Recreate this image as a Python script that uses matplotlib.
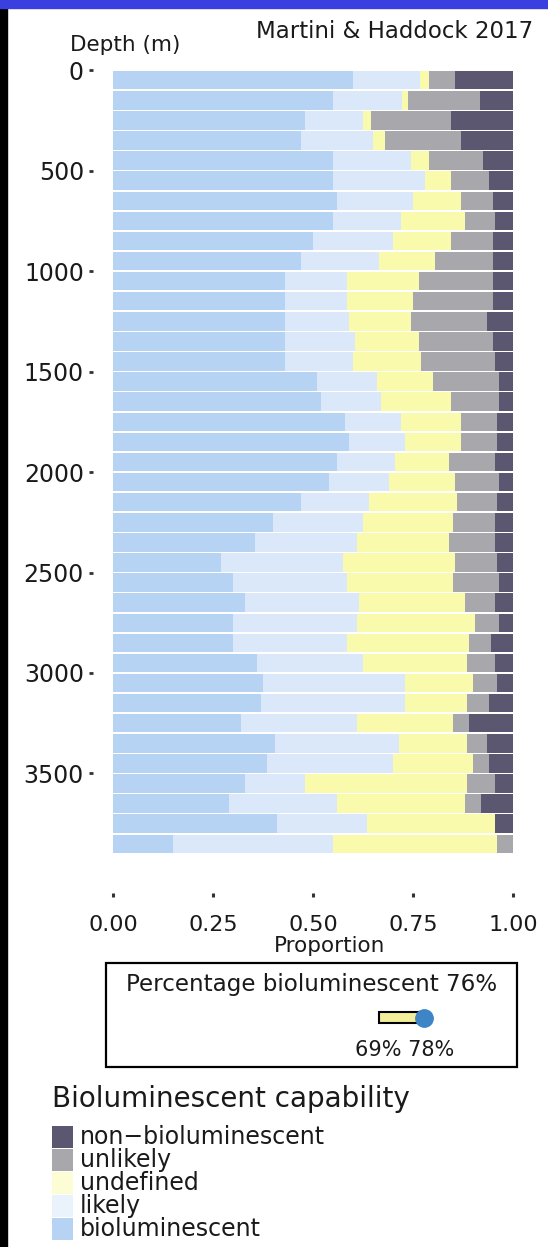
import matplotlib
matplotlib.use("Agg")
import matplotlib.pyplot as plt
from matplotlib.patches import Rectangle

# -------------------------------
# DATA
# -------------------------------
depth_bins = list(range(0, 3900, 100))  # top of each 100 m bin

categories = ["bioluminescent", "likely", "undefined", "unlikely", "non−bioluminescent"]
colors = ["#b7d3f4", "#dae8f9", "#fafaac", "#a8a7ab", "#5c5771"]
key_alpha = [1.0, 0.55, 0.5, 1.0, 1.0]  # legend keys look paler for the two light classes

bioluminescent = [0.60, 0.55, 0.48, 0.47, 0.55, 0.55, 0.56, 0.55, 0.50, 0.47,
                  0.43, 0.43, 0.43, 0.43, 0.43, 0.51, 0.52, 0.58, 0.59, 0.56,
                  0.54, 0.47, 0.40, 0.355, 0.27, 0.30, 0.33, 0.30, 0.30, 0.36,
                  0.375, 0.37, 0.32, 0.405, 0.385, 0.33, 0.29, 0.41, 0.15]
likely = [0.167, 0.172, 0.145, 0.18, 0.195, 0.23, 0.19, 0.17, 0.20, 0.195,
          0.155, 0.155, 0.16, 0.175, 0.17, 0.15, 0.15, 0.14, 0.14, 0.145,
          0.15, 0.17, 0.225, 0.255, 0.305, 0.285, 0.285, 0.31, 0.285, 0.265,
          0.355, 0.36, 0.29, 0.31, 0.315, 0.15, 0.27, 0.225, 0.40]
undefined = [0.023, 0.016, 0.02, 0.03, 0.045, 0.065, 0.12, 0.16, 0.145, 0.14,
             0.18, 0.165, 0.155, 0.16, 0.17, 0.14, 0.175, 0.15, 0.14, 0.135,
             0.165, 0.22, 0.225, 0.23, 0.28, 0.265, 0.265, 0.295, 0.305, 0.26,
             0.17, 0.155, 0.24, 0.17, 0.20, 0.405, 0.32, 0.32, 0.41]
unlikely = [0.065, 0.18, 0.20, 0.19, 0.135, 0.095, 0.08, 0.075, 0.105, 0.145,
            0.185, 0.20, 0.19, 0.185, 0.185, 0.165, 0.12, 0.09, 0.09, 0.115,
            0.11, 0.10, 0.105, 0.115, 0.105, 0.115, 0.075, 0.06, 0.055, 0.07,
            0.06, 0.055, 0.04, 0.05, 0.04, 0.07, 0.04, 0.0, 0.04]
non_bioluminescent = [0.145, 0.082, 0.155, 0.13, 0.075, 0.06, 0.05, 0.045, 0.05, 0.05,
                      0.05, 0.05, 0.065, 0.05, 0.045, 0.035, 0.035, 0.04, 0.04, 0.045,
                      0.035, 0.04, 0.045, 0.045, 0.04, 0.035, 0.045, 0.035, 0.055, 0.045,
                      0.04, 0.06, 0.11, 0.065, 0.06, 0.045, 0.08, 0.045, 0.0]

depth_ticks = [0, 500, 1000, 1500, 2000, 2500, 3000, 3500]
prop_ticks = [0, 0.25, 0.5, 0.75, 1.0]
prop_labels = ["0.00", "0.25", "0.50", "0.75", "1.00"]

pct_estimate = 76
pct_low = 69
pct_high = 78

# -------------------------------
# FIGURE
# -------------------------------
W, H = 548, 1247
plt.rcParams["font.family"] = ["DejaVu Sans"]
txt = "#1a1a1a"

fig = plt.figure(figsize=(W / 100, H / 100), dpi=100)
fig.patch.set_facecolor("white")


def fx(x):
    return x / W


def fy(y):
    return 1 - y / H


# slide frame bits: black strip on the left, blue band on top
fig.add_artist(Rectangle((0, 0), fx(7), 1, transform=fig.transFigure,
                         color="black", zorder=0))
fig.add_artist(Rectangle((0, fy(8)), 1, 8 / H, transform=fig.transFigure,
                         color="#3a3fe0", zorder=0))

# -------------------------------
# STACKED BARS
# -------------------------------
ax = fig.add_axes([fx(93), fy(893), 440 / W, 862 / H])
series = [bioluminescent, likely, undefined, unlikely, non_bioluminescent]
centers = [d + 50 for d in depth_bins]
left = [0.0] * len(depth_bins)
for vals, col, name in zip(series, colors, categories):
    ax.barh(centers, vals, left=left, height=92, color=col,
            linewidth=0, label=name)
    left = [l + v for l, v in zip(left, vals)]

ax.set_xlim(-0.05, 1.05)
ax.set_ylim(4095, -195)
for s in ax.spines.values():
    s.set_visible(False)
ax.set_facecolor("none")

ax.set_yticks(depth_ticks)
ax.set_yticklabels([str(d) for d in depth_ticks])
ax.set_xticks(prop_ticks)
ax.set_xticklabels(prop_labels)
ax.tick_params(axis="y", length=3, width=2, color="#333333", pad=3.5,
               labelsize=17, labelcolor=txt)
ax.tick_params(axis="x", length=3, width=2.2, color="#333333", pad=12.5,
               labelsize=16, labelcolor=txt)

fig.text(fx(330), fy(946), "Proportion", ha="center", va="center",
         fontsize=15.5, color=txt)
fig.text(fx(70), fy(51), "Depth (m)", ha="left", va="baseline",
         fontsize=15.5, color=txt)
fig.text(fx(533), fy(32), "Martini & Haddock 2017", ha="right", va="center",
         fontsize=16.5, color=txt)

# -------------------------------
# PERCENTAGE BOX
# -------------------------------
fig.add_artist(Rectangle((fx(106), fy(1067)), 411 / W, 104 / H,
                         transform=fig.transFigure, fill=False,
                         edgecolor="black", linewidth=1.6))
fig.text(fx(312), fy(985), f"Percentage bioluminescent {pct_estimate}%",
         ha="center", va="center", fontsize=16.6, color=txt)

ax2 = fig.add_axes([fx(300), fy(1062), 200 / W, 62 / H])
ax2.set_xlim(53.2, 93.2)
ax2.set_ylim(0, 1)
ax2.axis("off")
ax2.add_patch(Rectangle((pct_low, 0.63), pct_high - pct_low, 0.17,
                        facecolor="#f2ee9a", edgecolor="black", linewidth=1.5))
ax2.plot([pct_high], [0.715], "o", ms=12.5, color="#3d85c6", mec="#3d85c6")
ax2.text((pct_low + pct_high) / 2 + 0.7, 0.19, f"{pct_low}% {pct_high}%",
         ha="center", va="center", fontsize=15, color=txt)

# -------------------------------
# LEGEND (drawn by hand, ggplot style)
# -------------------------------
fig.text(fx(52), fy(1107), "Bioluminescent capability", ha="left",
         va="baseline", fontsize=20, color=txt)
row_h = 23
for i, (name, col, a) in enumerate(zip(categories[::-1], colors[::-1], key_alpha[::-1])):
    yc = 1137 + i * row_h
    fig.add_artist(Rectangle((fx(52), fy(yc + 11)), 21 / W, 22 / H,
                             transform=fig.transFigure, color=col, alpha=a, lw=0))
    fig.text(fx(80), fy(yc), name, ha="left", va="center",
             fontsize=17, color=txt)

fig.savefig("out.png", dpi=100)
